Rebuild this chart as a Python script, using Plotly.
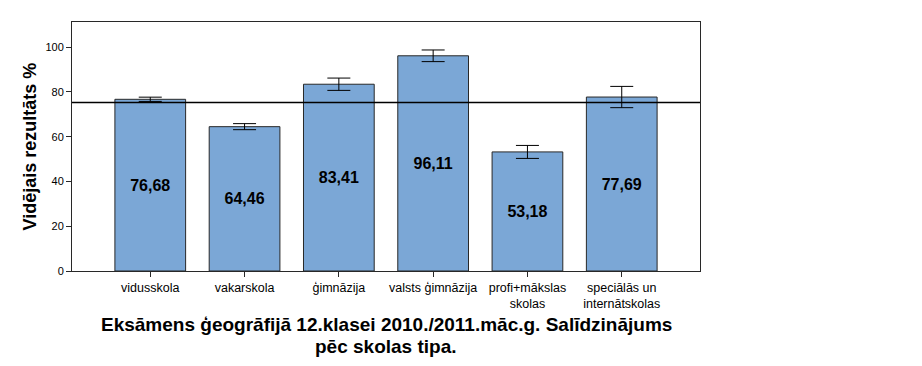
import plotly.graph_objects as go

categories = ["vidusskola", "vakarskola", "ģimnāzija", "valsts ģimnāzija",
              "profi+mākslas<br>skolas", "speciālās un<br>internātskolas"]
means = [76.68, 64.46, 83.41, 96.11, 53.18, 77.69]
errors = [0.95, 1.35, 2.75, 2.6, 2.9, 4.75]
reference_value = 75.3
y_ticks = [0, 20, 40, 60, 80, 100]
title_lines = ["Eksāmens ģeogrāfijā 12.klasei 2010./2011.māc.g. Salīdzinājums",
               "pēc skolas tipa."]
y_title = "Vidējais rezultāts %"

labels = ["<b>" + f"{v:.2f}".replace(".", ",") + "</b>" for v in means]
FONT = "Liberation Sans, Arial"

fig = go.Figure()
fig.add_trace(go.Bar(
    x=categories, y=means,
    marker=dict(color="rgb(123,167,214)", line=dict(color="rgb(40,40,40)", width=1)),
    width=0.75,
    text=labels, textposition="inside", insidetextanchor="middle",
    textfont=dict(family=FONT, size=16, color="black"),
    textangle=0,
    error_y=dict(type="data", array=errors, visible=True, color="black",
                 thickness=1, width=11.5),
    hoverinfo="skip",
))

fig.add_shape(type="line", xref="paper", yref="y", x0=0, x1=1,
              y0=reference_value, y1=reference_value,
              line=dict(color="black", width=1.5))

title_annots = [
    dict(text="<b>" + line + "</b>", xref="paper", yref="paper",
         x=0.5, y=yp, xanchor="center", yanchor="middle", showarrow=False,
         font=dict(size=19, family=FONT, color="black"))
    for line, yp in zip(title_lines, [-0.215, -0.303])
]

fig.update_layout(
    width=922, height=366,
    margin=dict(l=64, r=230, t=14, b=103, autoexpand=False),
    paper_bgcolor="white", plot_bgcolor="white",
    showlegend=False,
    font=dict(family=FONT, color="black", size=11),
    xaxis=dict(type="category", range=[-0.83, 5.83], showline=True, mirror=True,
               linecolor="rgb(40,40,40)", linewidth=1, ticks="outside", ticklen=5,
               tickcolor="rgb(40,40,40)", showgrid=False, tickangle=0,
               automargin=False, tickfont=dict(size=12.5, color="black")),
    yaxis=dict(range=[0, 111.2], tickvals=y_ticks, showline=True, mirror=True,
               linecolor="rgb(40,40,40)", linewidth=1, ticks="outside", ticklen=5,
               tickcolor="rgb(40,40,40)", showgrid=False, zeroline=False,
               automargin=False, tickfont=dict(size=11, color="black")),
    annotations=title_annots + [
        dict(text="<b>" + y_title + "</b>", xref="paper", yref="paper",
             x=-0.0669, y=0.5, xanchor="center", yanchor="middle", showarrow=False,
             textangle=-90, font=dict(size=18, family=FONT, color="black")),
    ],
)

fig.write_html("out.html")
